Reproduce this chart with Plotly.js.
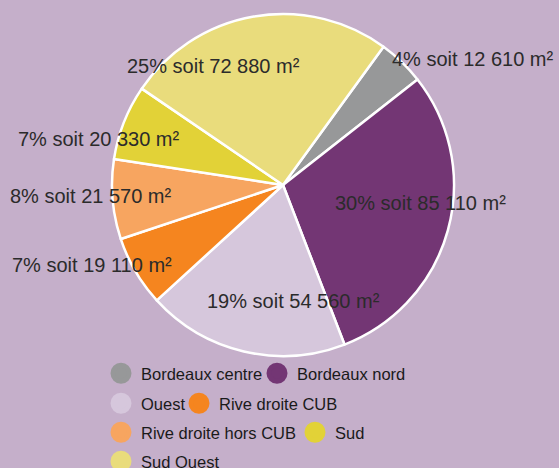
<!DOCTYPE html>
<html><head><meta charset="utf-8">
<script src="https://cdn.plot.ly/plotly-3.0.1.min.js"></script>
<style>html,body{margin:0;padding:0;background:#c5afca;} #chart{width:559px;height:468px;}</style>
</head><body><div id="chart"></div>
<script>
const categories = ['Bordeaux centre','Bordeaux nord','Ouest','Rive droite CUB','Rive droite hors CUB','Sud','Sud Ouest'];
const surfaces = [12610,85110,54560,19110,21570,20330,72880];
const colors = ['#979899','#733674','#d6c7dc','#f5851f','#f7a560','#e2d237','#e9dc7c'];
const legendRows = ['legend','legend','legend2','legend2','legend3','legend3','legend4'];
// legend entry widths (px) to tighten the gap before the next entry on a row
const legendWidths = [111, null, 33, null, 149, null, null];
// label offsets (px) from the slice's rim point at its mid-angle
const labelShift = [[71.5,2.6],[-27,27],[50,50.4],[-44,7],[-21.6,3.2],[-25,-16.3],[-40.6,-49.5]];

const W = 559, H = 468, CX = 283, CY = 185, R = 171, ROT = 36;
const FONT = 'Liberation Sans, Arial, sans-serif';
const total = surfaces.reduce((a,b)=>a+b,0);
const fmt = v => String(v).replace(/\B(?=(\d{3})+(?!\d))/g,' ');

const traces = [{
  type:'pie', labels:categories, values:surfaces, sort:false, direction:'clockwise', rotation:ROT,
  marker:{colors:colors, line:{color:'#ffffff', width:2.5}},
  textinfo:'none', hoverinfo:'none', showlegend:false,
  domain:{x:[(CX-R)/W,(CX+R)/W], y:[1-(CY+R)/H, 1-(CY-R)/H]}
}];
categories.forEach((c,i)=>{
  const t = {type:'scatter', mode:'markers', x:[null], y:[null], name:c, legend:legendRows[i],
    marker:{color:colors[i], size:16, line:{color:colors[i], width:5}}, hoverinfo:'none'};
  if(legendWidths[i]) t.legendwidth = legendWidths[i];
  traces.push(t);
});

const annotations = [];
let cum = 0;
surfaces.forEach((v,i)=>{
  const mid = (ROT + 360*(cum + v/2)/total) * Math.PI/180;
  cum += v;
  annotations.push({
    xref:'paper', yref:'paper', showarrow:false, xanchor:'center', yanchor:'middle',
    x:(CX + R*Math.sin(mid))/W, y:1-(CY - R*Math.cos(mid))/H,
    xshift:labelShift[i][0], yshift:labelShift[i][1],
    text: Math.round(v/total*100) + '% soit ' + fmt(v) + ' m²',
    font:{family:FONT, size:20, color:'#2b2b2b'}
  });
});

function leg(ytop){
  return {orientation:'h', xanchor:'left', yanchor:'top', x:(121-20)/W, y:1-ytop/H,
    bgcolor:'rgba(0,0,0,0)', borderwidth:0, font:{family:FONT, size:16.5, color:'#1a1a1a'}};
}
const layout = {
  width:W, height:H, margin:{l:0,r:0,t:0,b:0, autoexpand:false},
  font:{family:FONT, size:16.5, color:'#1a1a1a'},
  paper_bgcolor:'#c5afca', plot_bgcolor:'#c5afca',
  xaxis:{visible:false}, yaxis:{visible:false},
  annotations:annotations,
  legend:leg(356), legend2:leg(386), legend3:leg(415), legend4:leg(444)
};
Plotly.newPlot('chart', traces, layout, {displayModeBar:false, staticPlot:true});
</script></body></html>
